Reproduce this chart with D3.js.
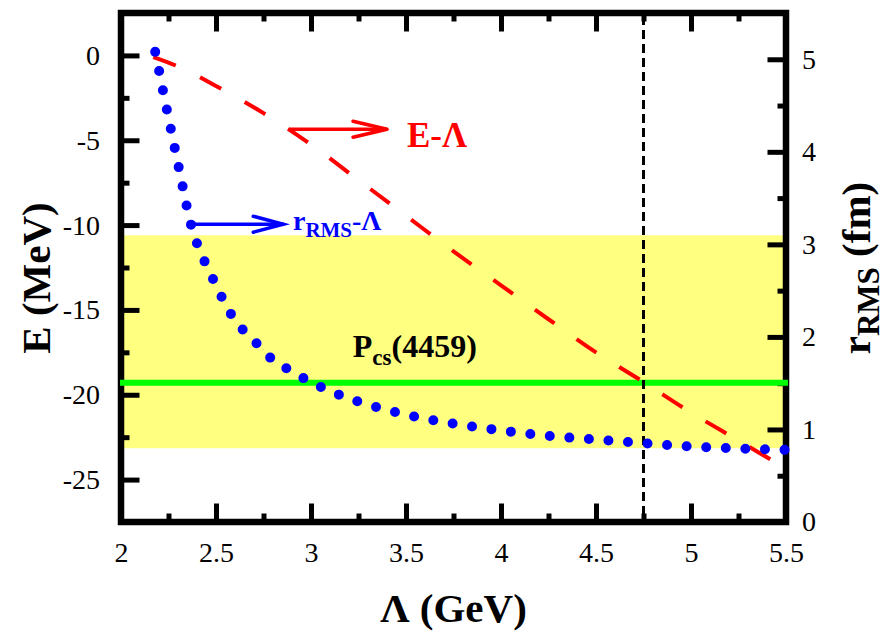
<!DOCTYPE html>
<html>
<head>
<meta charset="utf-8">
<script src="https://cdn.jsdelivr.net/npm/d3@7"></script>
<style>
  html, body { margin: 0; padding: 0; background: #fff; }
  svg, svg text { font-family: "Liberation Serif", "Times New Roman", serif; }
  svg { display: block; }
</style>
</head>
<body>
<svg id="chart" width="891" height="631"></svg>
<script>
// Binding energy E (MeV) versus cutoff Λ (GeV)
const lambdaE = [2.17, 2.30, 2.50, 2.75, 3.00, 3.25, 3.50, 3.75, 4.00, 4.25, 4.50, 4.75, 5.00, 5.25, 5.50];
const energy  = [-0.1, -0.65, -1.8, -3.4, -5.25, -7.35, -9.45, -11.55, -13.55, -15.55, -17.5, -19.25, -21.05, -22.7, -24.35];

// RMS radius r (fm) versus cutoff Λ (GeV)
const lambdaR = [2.18, 2.20, 2.22, 2.25, 2.28, 2.30, 2.33, 2.36, 2.40, 2.45, 2.50, 2.55, 2.60, 2.70, 2.80, 2.90, 3.00, 3.10, 3.25, 3.50, 3.75, 4.00, 4.25, 4.50, 4.75, 5.00, 5.25, 5.50];
const radius  = [5.08, 4.88, 4.67, 4.37, 4.07, 3.87, 3.57, 3.28, 3.01, 2.77, 2.56, 2.35, 2.18, 1.96, 1.75, 1.627, 1.51, 1.415, 1.30, 1.16, 1.063, 0.99, 0.93, 0.892, 0.852, 0.816, 0.795, 0.779];

// Reference state and cutoff marker
const pcsEnergy = -19.3;
const bandE = [-23.15, -10.6];
const lambdaMark = 4.75;

// Tick values
const xMajor = [2, 2.5, 3, 3.5, 4, 4.5, 5, 5.5];
const xMinor = [2.25, 2.75, 3.25, 3.75, 4.25, 4.75, 5.25];
const eMajor = [0, -5, -10, -15, -20, -25];
const eMinor = [-2.5, -7.5, -12.5, -17.5, -22.5];
const rMajor = [0, 1, 2, 3, 4, 5];
const rMinor = [0.5, 1.5, 2.5, 3.5, 4.5];

const plotL = 121, plotR = 786, plotT = 13, plotB = 522;
const x = d3.scaleLinear().domain([2, 5.5]).range([plotL, plotR]);
const yE = d3.scaleLinear().domain([-27.5, 2.5]).range([plotB, plotT]);
const yR = d3.scaleLinear().domain([0, 5.5]).range([plotB, plotT]);

const svg = d3.select("#chart");
const serif = "'Liberation Serif', 'Times New Roman', serif";
const plain = d => String(d);

// Shaded band
svg.append("rect")
  .attr("x", plotL).attr("width", plotR - plotL)
  .attr("y", yE(bandE[1])).attr("height", yE(bandE[0]) - yE(bandE[1]))
  .attr("fill", "#ffff80");

// Axes with inward ticks
const major = 18.5, minor = 8.5;
function styleAxis(g) {
  g.attr("font-family", serif).attr("font-size", 28);
  g.select(".domain").remove();
  g.selectAll(".tick line").attr("stroke", "#000").attr("stroke-width", 5);
  g.selectAll(".tick text").attr("fill", "#000");
}
svg.append("g").attr("transform", `translate(0,${plotB})`)
  .call(d3.axisBottom(x).tickValues(xMajor).tickSize(-major).tickPadding(20).tickFormat(plain))
  .call(styleAxis);
svg.append("g").attr("transform", `translate(0,${plotB})`)
  .call(d3.axisBottom(x).tickValues(xMinor).tickSize(-minor).tickFormat(""))
  .call(styleAxis);
svg.append("g").attr("transform", `translate(0,${plotT})`)
  .call(d3.axisTop(x).tickValues(xMajor).tickSize(-major).tickFormat(""))
  .call(styleAxis);
svg.append("g").attr("transform", `translate(0,${plotT})`)
  .call(d3.axisTop(x).tickValues(xMinor).tickSize(-minor).tickFormat(""))
  .call(styleAxis);
svg.append("g").attr("transform", `translate(${plotL},0)`)
  .call(d3.axisLeft(yE).tickValues(eMajor).tickSize(-major).tickPadding(21).tickFormat(plain))
  .call(styleAxis);
svg.append("g").attr("transform", `translate(${plotL},0)`)
  .call(d3.axisLeft(yE).tickValues(eMinor).tickSize(-minor).tickFormat(""))
  .call(styleAxis);
svg.append("g").attr("transform", `translate(${plotR},0)`)
  .call(d3.axisRight(yR).tickValues(rMajor).tickSize(-major).tickPadding(16).tickFormat(plain))
  .call(styleAxis);
svg.append("g").attr("transform", `translate(${plotR},0)`)
  .call(d3.axisRight(yR).tickValues(rMinor).tickSize(-minor).tickFormat(""))
  .call(styleAxis);

// Border
svg.append("rect")
  .attr("x", plotL).attr("y", plotT)
  .attr("width", plotR - plotL).attr("height", plotB - plotT)
  .attr("fill", "none").attr("stroke", "#000").attr("stroke-width", 6.5);

// Pcs(4459) energy level
svg.append("line")
  .attr("x1", plotL - 1).attr("x2", plotR + 2)
  .attr("y1", yE(pcsEnergy)).attr("y2", yE(pcsEnergy))
  .attr("stroke", "#00ff00").attr("stroke-width", 6);

// Vertical cutoff marker
svg.append("line")
  .attr("x1", x(lambdaMark)).attr("x2", x(lambdaMark))
  .attr("y1", plotT + 3).attr("y2", plotB - 3)
  .attr("stroke", "#000").attr("stroke-width", 3)
  .attr("stroke-dasharray", "9 5");

// E-Λ curve
const lineE = d3.line().x(d => x(d[0])).y(d => yE(d[1])).curve(d3.curveMonotoneX);
svg.append("path")
  .datum(lambdaE.map((l, i) => [l, energy[i]]))
  .attr("d", lineE)
  .attr("fill", "none").attr("stroke", "#ff0000").attr("stroke-width", 4)
  .attr("stroke-dasharray", "24 27");

// r-Λ curve
const lineR = d3.line().x(d => x(d[0])).y(d => yR(d[1])).curve(d3.curveMonotoneX);
svg.append("path")
  .datum(lambdaR.map((l, i) => [l, radius[i]]))
  .attr("d", lineR)
  .attr("fill", "none").attr("stroke", "#0000ff").attr("stroke-width", 10)
  .attr("stroke-linecap", "round")
  .attr("stroke-dasharray", "0 19.6");

// Arrows pointing from each curve to its label
function arrow(x0, x1, yv, color, width, headLen, headHalf) {
  const g = svg.append("g").attr("stroke", color).attr("stroke-width", width)
    .attr("stroke-linecap", "round").attr("fill", "none");
  const X0 = x(x0), X1 = x(x1), Y = yE(yv);
  g.append("line").attr("x1", X0).attr("y1", Y).attr("x2", X1).attr("y2", Y);
  g.append("path").attr("d", `M${X1 - headLen},${Y - headHalf}L${X1},${Y}L${X1 - headLen},${Y + headHalf}`)
    .attr("stroke-linejoin", "miter");
}
arrow(2.889, 3.40, -4.35, "#ff0000", 3.5, 34, 8);
arrow(2.367, 2.854, -9.95, "#0000ff", 3.5, 30, 8);

// Curve labels
svg.append("text")
  .attr("x", x(3.505)).attr("y", yE(-5.4))
  .attr("font-family", serif)
  .attr("font-size", 35).attr("font-weight", "bold").attr("fill", "#ff0000")
  .text("E-Λ");

const rl = svg.append("text")
  .attr("x", x(2.905)).attr("y", yE(-10.3))
  .attr("font-family", serif)
  .attr("font-weight", "bold").attr("fill", "#0000ff").attr("font-size", 28);
rl.append("tspan").text("r");
rl.append("tspan").attr("font-size", 21).attr("dy", 7).text("RMS");
rl.append("tspan").attr("dy", -7).text("-Λ");

const pl = svg.append("text")
  .attr("x", x(3.22)).attr("y", yE(-17.8))
  .attr("font-family", serif)
  .attr("font-weight", "bold").attr("fill", "#000").attr("font-size", 32);
pl.append("tspan").text("P");
pl.append("tspan").attr("font-size", 23).attr("dy", 8).text("cs");
pl.append("tspan").attr("dy", -8).text("(4459)");

// Axis titles
svg.append("text")
  .attr("x", (plotL + plotR) / 2).attr("y", 622)
  .attr("font-family", serif)
  .attr("text-anchor", "middle").attr("font-size", 41).attr("font-weight", "bold")
  .text("Λ (GeV)");

svg.append("text")
  .attr("transform", `translate(50,${278}) rotate(-90)`)
  .attr("font-family", serif)
  .attr("text-anchor", "middle").attr("font-size", 41).attr("font-weight", "bold")
  .text("E (MeV)");

const rt = svg.append("text")
  .attr("transform", `translate(870,${268}) rotate(-90)`)
  .attr("font-family", serif)
  .attr("text-anchor", "middle").attr("font-size", 41).attr("font-weight", "bold");
rt.append("tspan").text("r");
rt.append("tspan").attr("font-size", 31).attr("dy", 9).text("RMS");
rt.append("tspan").attr("dy", -9).text(" (fm)");
</script>
</body>
</html>
